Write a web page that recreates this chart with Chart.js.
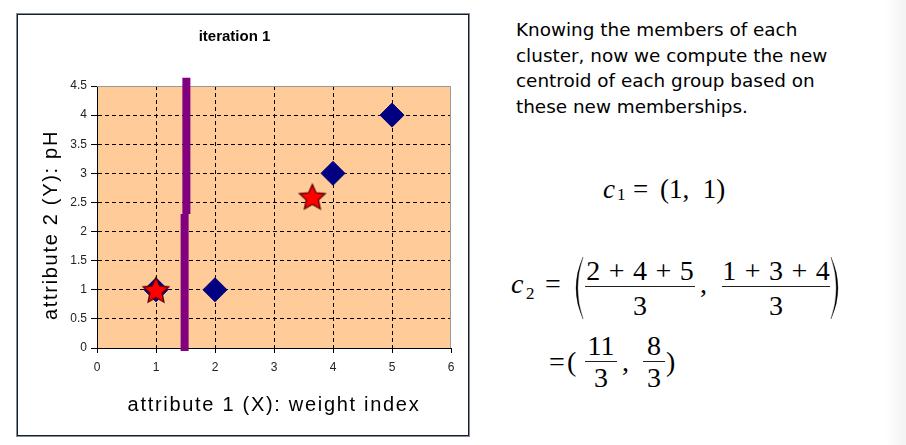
<!DOCTYPE html>
<html>
<head>
<meta charset="utf-8">
<script src="https://cdn.jsdelivr.net/npm/chart.js@4/dist/chart.umd.min.js"></script>
<style>
  html, body { margin: 0; padding: 0; background: #fff; width: 906px; height: 445px; overflow: hidden; position: relative; }
  #frame { position: absolute; left: 16px; top: 13px; width: 454px; height: 424px; box-sizing: border-box; border: 1px solid #7d8ba6; }
  #frame .inner { position: absolute; left: 0; top: 0; right: 0; bottom: 0; border: 1px solid #1e1e1e; }
  #box { position: absolute; left: 18px; top: 15px; width: 450px; height: 420px; }
  #note { position: absolute; left: 516px; top: 17px; font-family: "DejaVu Sans"; font-size: 18.4px; line-height: 25.5px; color: #000; white-space: nowrap; }
  #edge { position: absolute; left: 885px; top: 0; width: 21px; height: 445px; background: linear-gradient(90deg, #ffffff, #f3f3f3); }
  .m { position: absolute; font-family: "Liberation Serif"; font-size: 28px; line-height: 28px; color: #000; white-space: pre; }
  .m.s27 { font-size: 27px; line-height: 27px; }
  .m.sub { font-size: 17px; line-height: 17px; }
  .m i { font-style: italic; }
  .frac { text-align: center; word-spacing: 1.5px; }
  .bar { position: absolute; height: 1.4px; background: #222; }
  svg.paren { position: absolute; }
</style>
</head>
<body>
<div id="frame"><div class="inner"></div></div>
<div id="box"><canvas id="chart"></canvas></div>

<div id="note">Knowing the members of each<br>cluster, now we compute the new<br>centroid of each group based on<br>these new memberships.</div>

<!-- c1 = (1, 1) -->
<span class="m s27" style="left:603px;top:176px"><i>c</i></span>
<span class="m sub" style="left:617px;top:186px">1</span>
<span class="m s27" style="left:633px;top:176px">=</span>
<span class="m s27" style="left:660px;top:176px">(1,  1)</span>

<!-- c2 = ( (2+4+5)/3 , (1+3+4)/3 ) -->
<span class="m" style="left:511px;top:270px"><i>c</i></span>
<span class="m sub" style="left:526px;top:285px">2</span>
<span class="m" style="left:545px;top:270px">=</span>
<svg class="paren" style="left:569px;top:256px" width="16" height="64"><path d="M14,1 Q0,32 14,63 Q3.5,32 14,1 Z" fill="#000" stroke="#000" stroke-width="0.3"/></svg>
<span class="m frac" style="left:585px;top:257px;width:110px">2 + 4 + 5</span>
<div class="bar" style="left:585px;top:286px;width:110px"></div>
<span class="m frac" style="left:585px;top:292px;width:110px">3</span>
<span class="m" style="left:700px;top:270px">,</span>
<span class="m frac" style="left:722px;top:257px;width:108px">1 + 3 + 4</span>
<div class="bar" style="left:722px;top:286px;width:108px"></div>
<span class="m frac" style="left:722px;top:292px;width:108px">3</span>
<svg class="paren" style="left:829px;top:256px" width="16" height="64"><path d="M2,1 Q16,32 2,63 Q12.5,32 2,1 Z" fill="#000" stroke="#000" stroke-width="0.3"/></svg>

<!-- = (11/3, 8/3) -->
<span class="m" style="left:549px;top:348px">=</span>
<span class="m" style="left:567px;top:348px">(</span>
<span class="m frac" style="left:585px;top:332px;width:32px">11</span>
<div class="bar" style="left:585px;top:361px;width:32px"></div>
<span class="m frac" style="left:585px;top:364px;width:32px">3</span>
<span class="m" style="left:622px;top:348px">,</span>
<span class="m frac" style="left:643px;top:332px;width:22px">8</span>
<div class="bar" style="left:643px;top:361px;width:22px"></div>
<span class="m frac" style="left:643px;top:364px;width:22px">3</span>
<span class="m" style="left:666px;top:348px">)</span>

<div id="edge"></div>

<script>
// dane z wykresu
const memberX = [1, 2, 4, 5];
const memberY = [1, 1, 3, 4];
const centroidX = [1, 3.65];
const centroidY = [1, 2.6];
// granica miedzy klastrami (dwa kawalki)
const splitUpperX = [1.515, 1.515];
const splitUpperY = [4.64, 2.3];
const splitLowerX = [1.485, 1.485];
const splitLowerY = [2.3, -0.05];
// osie
const xTickValues = [0, 1, 2, 3, 4, 5, 6];
const xTickLabels = ["0", "1", "2", "3", "4", "5", "6"];
const yTickValues = [0, 0.5, 1, 1.5, 2, 2.5, 3, 3.5, 4, 4.5];
const yTickLabels = ["0", "0.5", "1", "1.5", "2", "2.5", "3", "3.5", "4", "4.5"];
const chartTitle = "iteration 1";
const xTitle = "attribute 1 (X): weight index";
const yTitle = "attribute 2 (Y): pH";

const toPoints = (xs, ys) => xs.map((x, i) => ({ x: x, y: ys[i] }));

function makeStar(size) {
  const c = document.createElement("canvas");
  c.width = size;
  c.height = size;
  const g = c.getContext("2d");
  const R = size / 2 - 1.5;
  const r = R * 0.47;
  const cx = size / 2;
  const cy = size / 2 + R * 0.095;
  g.beginPath();
  for (let i = 0; i < 10; i++) {
    const a = -Math.PI / 2 + (i * Math.PI) / 5;
    const rad = i % 2 === 0 ? R : r;
    g.lineTo(cx + rad * Math.cos(a), cy + rad * Math.sin(a));
  }
  g.closePath();
  g.fillStyle = "#ff0000";
  g.fill();
  g.lineWidth = 1.3;
  g.strokeStyle = "#520000";
  g.stroke();
  return c;
}

const plotBackground = {
  id: "plotBackground",
  beforeDraw(chart) {
    const { ctx, chartArea: a } = chart;
    ctx.save();
    ctx.fillStyle = "#ffcc99";
    ctx.fillRect(a.left, a.top, a.right - a.left, a.bottom - a.top);
    ctx.restore();
  },
  beforeDatasetsDraw(chart) {
    const { ctx, chartArea: a } = chart;
    ctx.save();
    ctx.strokeStyle = "#9a9a9a";
    ctx.lineWidth = 1;
    ctx.beginPath();
    ctx.moveTo(a.left, a.top + 0.5);
    ctx.lineTo(a.right - 0.5, a.top + 0.5);
    ctx.lineTo(a.right - 0.5, a.bottom);
    ctx.stroke();
    ctx.restore();
  },
};

const axisTitles = {
  id: "axisTitles",
  afterDraw(chart) {
    const { ctx, chartArea: a } = chart;
    ctx.save();
    ctx.fillStyle = "#000";
    ctx.font = '20px "Liberation Sans"';
    ctx.letterSpacing = "1.7px";
    ctx.textAlign = "center";
    ctx.textBaseline = "alphabetic";
    ctx.fillText(xTitle, (a.left + a.right) / 2, a.bottom + 63);
    ctx.translate(39, (a.top + a.bottom) / 2 + 8);
    ctx.rotate(-Math.PI / 2);
    ctx.fillText(yTitle, 0, 0);
    ctx.restore();
  },
};

const tickFont = { family: "Liberation Sans", size: 12 };

new Chart(document.getElementById("chart"), {
  type: "scatter",
  data: {
    datasets: [
      {
        label: "centroids",
        data: toPoints(centroidX, centroidY),
        pointStyle: makeStar(30),
        pointRadius: 15,
        order: 0,
      },
      {
        label: "split upper",
        data: toPoints(splitUpperX, splitUpperY),
        showLine: true,
        borderColor: "#800080",
        borderWidth: 8,
        pointRadius: 0,
        clip: false,
        order: 1,
      },
      {
        label: "split lower",
        data: toPoints(splitLowerX, splitLowerY),
        showLine: true,
        borderColor: "#800080",
        borderWidth: 8,
        pointRadius: 0,
        clip: false,
        order: 1,
      },
      {
        label: "members",
        data: toPoints(memberX, memberY),
        pointStyle: "rectRot",
        pointRadius: 12,
        backgroundColor: "#000080",
        borderColor: "#000080",
        borderWidth: 1,
        order: 2,
      },
    ],
  },
  options: {
    responsive: true,
    maintainAspectRatio: false,
    animation: false,
    events: [],
    layout: { padding: { left: 0, right: 17, top: 0, bottom: 0 } },
    plugins: {
      legend: { display: false },
      tooltip: { enabled: false },
      title: {
        display: true,
        text: chartTitle,
        color: "#000",
        font: { family: "Liberation Sans", size: 15, weight: "bold" },
        padding: { top: 13, bottom: 40 },
      },
    },
    scales: {
      x: {
        type: "linear",
        min: 0,
        max: 6,
        afterFit(scale) {
          scale.height = 87;
        },
        afterBuildTicks(scale) {
          scale.ticks = xTickValues.map((v) => ({ value: v }));
        },
        ticks: {
          color: "#222",
          font: tickFont,
          padding: 7,
          maxRotation: 0,
          callback: (v, i) => xTickLabels[i],
        },
        grid: {
          color: (c) => (c.tick && (c.tick.value === 0 || c.tick.value === 6) ? "rgba(0,0,0,0)" : "#000"),
          tickColor: "#000",
          tickLength: 5,
          tickBorderDash: [],
          lineWidth: 1,
        },
        border: { display: true, color: "#000", width: 1, dash: [4, 3] },
      },
      y: {
        type: "linear",
        min: 0,
        max: 4.5,
        afterFit(scale) {
          scale.width = 79;
        },
        afterBuildTicks(scale) {
          scale.ticks = yTickValues.map((v) => ({ value: v }));
        },
        ticks: {
          color: "#222",
          font: tickFont,
          padding: 4,
          callback: (v, i) => yTickLabels[i],
        },
        grid: {
          color: (c) => (c.tick && (c.tick.value === 0 || c.tick.value === 4.5) ? "rgba(0,0,0,0)" : "#000"),
          tickColor: "#000",
          tickLength: 6,
          tickBorderDash: [],
          lineWidth: 1,
        },
        border: { display: true, color: "#000", width: 1, dash: [4, 3] },
      },
    },
  },
  plugins: [plotBackground, axisTitles],
});
</script>
</body>
</html>
